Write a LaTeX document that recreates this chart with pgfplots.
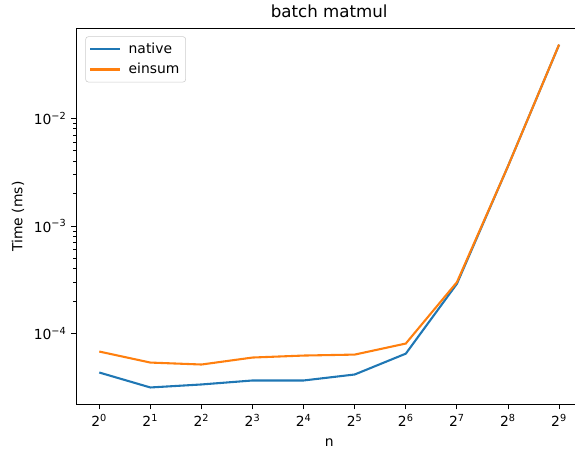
\documentclass[border=0pt]{standalone}
\usepackage{pgfplots}
\pgfplotsset{compat=1.18}
\usepackage{fontspec}
\setmainfont{DejaVu Sans}
\definecolor{tabblue}{HTML}{1F77B4}
\definecolor{taborange}{HTML}{FF7F0E}
\begin{document}
\begin{tikzpicture}
\begin{axis}[
  at={(0pt,0pt)}, anchor=south west,
  scale only axis, width=364.2pt, height=270.7pt,
  xmode=log, ymode=log, log basis x=2,
  xmin=0.7320, xmax=699.4, ymin=2.19e-5, ymax=0.0687,
  xtick={1,2,4,8,16,32,64,128,256,512},
  xticklabels={2\textsuperscript{0},2\textsuperscript{1},2\textsuperscript{2},2\textsuperscript{3},2\textsuperscript{4},2\textsuperscript{5},2\textsuperscript{6},2\textsuperscript{7},2\textsuperscript{8},2\textsuperscript{9}},
  ytick={1e-4,1e-3,1e-2},
  yticklabels={10\textsuperscript{−4},10\textsuperscript{−3},10\textsuperscript{−2}},
  minor xtick={},
  tick align=outside, xtick pos=left, ytick pos=left,
  major tick length=3.5pt, minor tick length=2pt,
  every tick/.style={black, line width=0.6pt},
  axis line style={line width=0.6pt},
  tick label style={font=\fontsize{10}{12}\selectfont},
  xlabel={n}, ylabel={Time (ms)},
  label style={font=\fontsize{10}{12}\selectfont},
  xlabel style={yshift=-2pt},
  title={batch matmul},
  title style={font=\fontsize{12}{14}\selectfont, yshift=-2pt},
  legend style={at={(axis description cs:0.018,0.979)}, anchor=north west,
    draw=black!20, rounded corners=2pt, font=\fontsize{10}{12}\selectfont,
    inner sep=2.5pt, row sep=1.5pt},
  legend cell align=left,
  legend image code/.code={\draw[#1] (0pt,0pt) -- (21.6pt,0pt); \path (25pt,0pt);},
]
\addplot[tabblue, line width=1.5pt] coordinates {
(1,4.34e-5) (2,3.15e-5) (4,3.36e-5) (8,3.66e-5) (16,3.66e-5) (32,4.16e-5) (64,6.5e-5) (128,2.9e-4) (256,3.6e-3) (512,4.85e-2)};
\addlegendentry{native}
\addplot[taborange, line width=1.5pt] coordinates {
(1,6.8e-5) (2,5.37e-5) (4,5.15e-5) (8,5.98e-5) (16,6.24e-5) (32,6.37e-5) (64,8.07e-5) (128,3.0e-4) (256,3.6e-3) (512,4.87e-2)};
\addlegendentry{einsum}
\end{axis}
\pgfresetboundingbox
\useasboundingbox (-54.9pt,-34.6pt) rectangle (359.1pt,291.2pt);
\end{tikzpicture}
\end{document}
